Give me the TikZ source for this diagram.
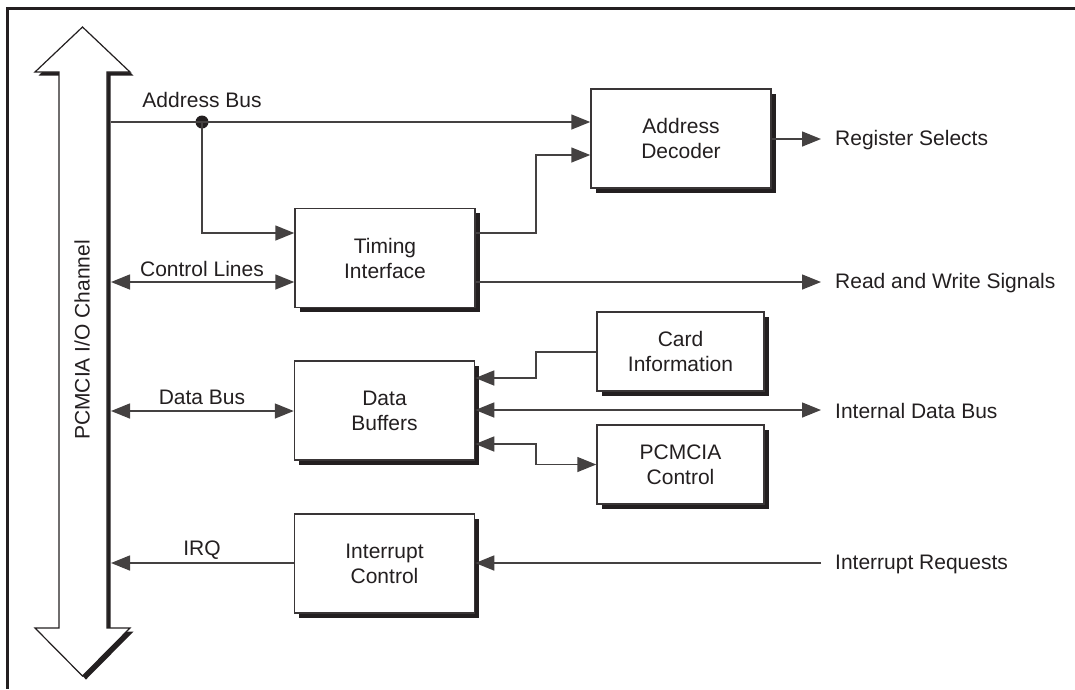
\documentclass[tikz,border=0pt]{standalone}
\usepackage{fontspec}
\setmainfont{Liberation Sans}
\usetikzlibrary{arrows.meta,shadows}
\definecolor{ink}{HTML}{231F20}
\begin{document}
\begin{tikzpicture}[x=1pt,y=-1pt,
  txt/.style={font=\fontsize{21}{25}\selectfont, text=ink},
  box/.style={txt, draw=ink!90, line width=1.5pt, fill=white, align=center, inner sep=0pt,
    drop shadow={shadow xshift=4.5pt, shadow yshift=-4.5pt, opacity=1, fill=ink}},
  bigbox/.style={box, minimum width=180pt, minimum height=99pt},
  smallbox/.style={box, minimum width=167pt, minimum height=79pt},
  wire/.style={draw=ink!85, line width=1.5pt},
  arr/.style={wire, -{Triangle[length=19pt,width=15pt]}},
  darr/.style={wire, {Triangle[length=19pt,width=15pt]}-{Triangle[length=19pt,width=15pt]}},
  lbl/.style={txt, inner sep=0pt},
  rlbl/.style={txt, inner sep=0pt, anchor=west}]
\useasboundingbox (0,0) rectangle (1075,689);
% frame (top and left edges)
\draw[line width=3pt, ink] (1075,8) -- (7,8) -- (7,689);
% bus arrow
\def\buspoly{(82.5,27) -- (130,72) -- (107,72) -- (107,628) -- (130,628) -- (82.5,676) -- (35,628) -- (59,628) -- (59,72) -- (35,72) -- cycle}
\begin{scope}[shift={(3.5,3.5)}]
  \fill[ink] \buspoly;
\end{scope}
\draw[ink, line width=1.2pt, fill=white, line join=miter] \buspoly;
\node[lbl, rotate=90] (bus) at (82,340) {PCMCIA I/O Channel};
% bus taps
\coordinate (tapA) at (111,122);
\coordinate (tapC) at (111,282);
\coordinate (tapD) at (111,411);
\coordinate (tapI) at (111,563);
% boxes
\node[bigbox] (tim) at (385,258) {Timing\\Interface};
\node[bigbox] (dec) at (681,138.5) {Address\\Decoder};
\node[bigbox] (buf) at (384.5,410.5) {Data\\Buffers};
\node[bigbox] (irq) at (384.5,563.5) {Interrupt\\Control};
\node[smallbox] (card) at (680.5,351.5) {Card\\Information};
\node[smallbox] (pcm) at (680.5,464.5) {PCMCIA\\Control};
% free ends on the right
\coordinate (rsel) at (821,139);
\coordinate (rw) at (821,282);
\coordinate (idb) at (821,410);
\coordinate (ireq) at (821,563);
% junction dot
\node[circle, fill=ink, minimum size=13pt, inner sep=0pt] (dot) at (202,122) {};
% connectors
\draw[arr] (tapA) -- (dec.west |- tapA);
\draw[arr] (dot.center) |- (tim.west |- 0,233);
\draw[darr] (tapC) -- (tim.west |- tapC);
\draw[arr] (tim.east |- 0,233) -| (536,155) -- (dec.west |- 0,155);
\draw[arr] (dec.east |- rsel) -- (rsel);
\draw[arr] (tim.east |- rw) -- (rw);
\draw[arr] (card.west |- 0,352) -| (536,378) -- (buf.east |- 0,378);
\draw[darr] (buf.east |- idb) -- (idb);
\draw[darr] (buf.east |- 0,444) -| (536,464.5) -- (pcm.west);
\draw[darr] (tapD) -- (buf.west |- tapD);
\draw[arr] (irq.west |- tapI) -- (tapI);
\draw[arr] (ireq) -- (irq.east |- ireq);
% labels
\node[lbl] (lAB) at (202,100) {Address Bus};
\node[lbl] (lCL) at (202,269) {Control Lines};
\node[lbl] (lDB) at (202,397) {Data Bus};
\node[lbl] (lIRQ) at (202,550) {IRQ};
\node[rlbl] (lRS) at (835,140) {Register Selects};
\node[rlbl] (lRW) at (835,283) {Read and Write Signals};
\node[rlbl] (lIDB) at (835,411) {Internal Data Bus};
\node[rlbl] (lIR) at (835,564) {Interrupt Requests};
\end{tikzpicture}
\end{document}
